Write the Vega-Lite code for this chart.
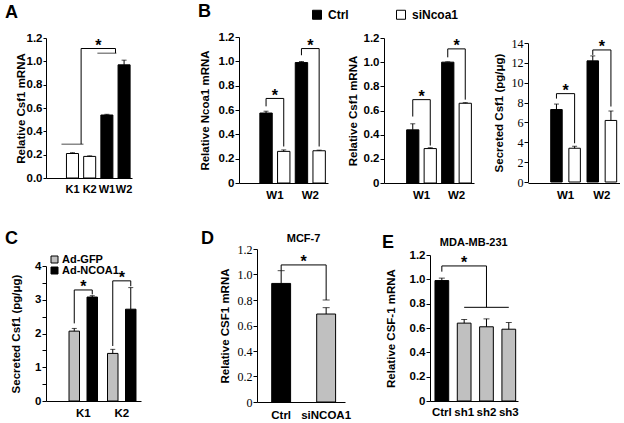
{
  "$schema": "https://vega.github.io/schema/vega-lite/v6.json",
  "background": "white",
  "padding": {"left": 5, "top": 2, "right": 0, "bottom": 0},
  "columns": 4,
  "spacing": {"row": 66, "column": 0},
  "bounds": "flush",
  "align": {"row": "each", "column": "each"},
  "resolve": {"scale": {"fill": "independent", "x": "independent", "y": "independent", "xOffset": "independent"}},
  "datasets": {
    "a_bars": [
      {"cell": "K1", "line": "K", "value": 0.21, "hi": 0.217},
      {"cell": "K2", "line": "K", "value": 0.185, "hi": 0.19},
      {"cell": "W1", "line": "W", "value": 0.54, "hi": 0.546},
      {"cell": "W2", "line": "W", "value": 0.97, "hi": 1.01}
    ],
    "a_path": [
      {"cell": "K1", "y": 0.29, "o": 1},
      {"cell": "K1", "y": 1.11, "o": 2},
      {"cell": "W1", "y": 1.11, "o": 3},
      {"cell": "W1", "y": 1.07, "o": 4}
    ],
    "a_low": [{"cell": "K1", "y": 0.29}],
    "a_high": [{"cell": "W1", "y": 1.07}],
    "a_star": [{"cell": "K2", "y": 1.09}],
    "b1_bars": [
      {"group": "W1", "series": "Ctrl", "value": 0.575, "hi": 0.59},
      {"group": "W1", "series": "siNcoa1", "value": 0.26, "hi": 0.272},
      {"group": "W2", "series": "Ctrl", "value": 0.99, "hi": 0.998},
      {"group": "W2", "series": "siNcoa1", "value": 0.265, "hi": 0.27}
    ],
    "b1_path": [
      {"group": "W1", "series": "Ctrl", "y": 0.63, "id": "W1", "o": 1},
      {"group": "W1", "series": "Ctrl", "y": 0.695, "id": "W1", "o": 2},
      {"group": "W1", "series": "siNcoa1", "y": 0.695, "id": "W1", "o": 3},
      {"group": "W1", "series": "siNcoa1", "y": 0.3, "id": "W1", "o": 4},
      {"group": "W2", "series": "Ctrl", "y": 1.05, "id": "W2", "o": 1},
      {"group": "W2", "series": "Ctrl", "y": 1.105, "id": "W2", "o": 2},
      {"group": "W2", "series": "siNcoa1", "y": 1.105, "id": "W2", "o": 3},
      {"group": "W2", "series": "siNcoa1", "y": 0.3, "id": "W2", "o": 4}
    ],
    "b1_star": [{"group": "W1", "y": 0.675}, {"group": "W2", "y": 1.085}],
    "b2_bars": [
      {"group": "W1", "series": "Ctrl", "value": 0.44, "hi": 0.49},
      {"group": "W1", "series": "siNcoa1", "value": 0.285, "hi": 0.292},
      {"group": "W2", "series": "Ctrl", "value": 1.0, "hi": 1.003},
      {"group": "W2", "series": "siNcoa1", "value": 0.66, "hi": 0.665}
    ],
    "b2_path": [
      {"group": "W1", "series": "Ctrl", "y": 0.55, "id": "W1", "o": 1},
      {"group": "W1", "series": "Ctrl", "y": 0.69, "id": "W1", "o": 2},
      {"group": "W1", "series": "siNcoa1", "y": 0.69, "id": "W1", "o": 3},
      {"group": "W1", "series": "siNcoa1", "y": 0.31, "id": "W1", "o": 4},
      {"group": "W2", "series": "Ctrl", "y": 1.04, "id": "W2", "o": 1},
      {"group": "W2", "series": "Ctrl", "y": 1.11, "id": "W2", "o": 2},
      {"group": "W2", "series": "siNcoa1", "y": 1.11, "id": "W2", "o": 3},
      {"group": "W2", "series": "siNcoa1", "y": 0.69, "id": "W2", "o": 4}
    ],
    "b2_star": [{"group": "W1", "y": 0.67}, {"group": "W2", "y": 1.09}],
    "b3_bars": [
      {"group": "W1", "series": "Ctrl", "value": 7.3, "hi": 7.85},
      {"group": "W1", "series": "siNcoa1", "value": 3.4, "hi": 3.6},
      {"group": "W2", "series": "Ctrl", "value": 12.2, "hi": 12.7},
      {"group": "W2", "series": "siNcoa1", "value": 6.2, "hi": 7.15}
    ],
    "b3_path": [
      {"group": "W1", "series": "Ctrl", "y": 8.4, "id": "W1", "o": 1},
      {"group": "W1", "series": "Ctrl", "y": 8.9, "id": "W1", "o": 2},
      {"group": "W1", "series": "siNcoa1", "y": 8.9, "id": "W1", "o": 3},
      {"group": "W1", "series": "siNcoa1", "y": 3.9, "id": "W1", "o": 4},
      {"group": "W2", "series": "Ctrl", "y": 12.8, "id": "W2", "o": 1},
      {"group": "W2", "series": "Ctrl", "y": 13.3, "id": "W2", "o": 2},
      {"group": "W2", "series": "siNcoa1", "y": 13.3, "id": "W2", "o": 3},
      {"group": "W2", "series": "siNcoa1", "y": 7.6, "id": "W2", "o": 4}
    ],
    "b3_star": [{"group": "W1", "y": 8.65}, {"group": "W2", "y": 13.05}],
    "c_bars": [
      {"group": "K1", "series": "Ad-GFP", "value": 2.07, "hi": 2.15},
      {"group": "K1", "series": "Ad-NCOA1", "value": 3.08, "hi": 3.12},
      {"group": "K2", "series": "Ad-GFP", "value": 1.41, "hi": 1.53},
      {"group": "K2", "series": "Ad-NCOA1", "value": 2.72, "hi": 3.36}
    ],
    "c_path": [
      {"group": "K1", "series": "Ad-GFP", "y": 2.3, "id": "K1", "o": 1},
      {"group": "K1", "series": "Ad-GFP", "y": 3.29, "id": "K1", "o": 2},
      {"group": "K1", "series": "Ad-NCOA1", "y": 3.29, "id": "K1", "o": 3},
      {"group": "K1", "series": "Ad-NCOA1", "y": 3.16, "id": "K1", "o": 4},
      {"group": "K2", "series": "Ad-GFP", "y": 1.63, "id": "K2", "o": 1},
      {"group": "K2", "series": "Ad-GFP", "y": 3.56, "id": "K2", "o": 2},
      {"group": "K2", "series": "Ad-NCOA1", "y": 3.56, "id": "K2", "o": 3},
      {"group": "K2", "series": "Ad-NCOA1", "y": 3.4, "id": "K2", "o": 4}
    ],
    "c_star": [{"group": "K1", "y": 3.22}, {"group": "K2", "y": 3.49}],
    "d_bars": [
      {"cond": "Ctrl", "value": 0.93, "hi": 1.03},
      {"cond": "siNCOA1", "value": 0.69, "hi": 0.74}
    ],
    "d_path": [
      {"cond": "Ctrl", "y": 1.03, "o": 1},
      {"cond": "Ctrl", "y": 1.075, "o": 2},
      {"cond": "siNCOA1", "y": 1.075, "o": 3},
      {"cond": "siNCOA1", "y": 0.8, "o": 4}
    ],
    "d_cap": [{"cond": "siNCOA1", "y": 0.8}],
    "d_star": [{"cond": "Ctrl", "y": 1.055}],
    "d_head": [{"cond": "Ctrl", "y": 1.255, "label": "MCF-7"}],
    "e_bars": [
      {"cell": "Ctrl", "value": 0.99, "hi": 1.01},
      {"cell": "sh1", "value": 0.64, "hi": 0.67},
      {"cell": "sh2", "value": 0.61, "hi": 0.675},
      {"cell": "sh3", "value": 0.59, "hi": 0.645}
    ],
    "e_path": [
      {"cell": "Ctrl", "y": 1.063, "id": "a", "o": 1},
      {"cell": "Ctrl", "y": 1.11, "id": "a", "o": 2},
      {"cell": "sh2", "y": 1.11, "id": "a", "o": 3},
      {"cell": "sh2", "y": 0.77, "id": "a", "o": 4},
      {"cell": "sh1", "y": 0.77, "id": "b", "o": 1},
      {"cell": "sh3", "y": 0.77, "id": "b", "o": 2}
    ],
    "e_star": [{"cell": "sh1", "y": 1.09}],
    "e_head": [{"cell": "sh1", "y": 1.275, "label": "MDA-MB-231"}]
  },
  "concat": [
    {
      "width": 193, "height": 141,
      "title": {"text": "A", "dx": -41, "offset": 10.5},
      "layer": [
        {"data": {"name": "a_bars"}, "mark": {"type": "bar", "stroke": "black", "strokeWidth": 1},
         "encoding": {
           "x": {"field": "cell", "type": "nominal", "scale": {"domain": ["K1", "K2", "W1", "W2"], "range": [0, 86], "paddingInner": 0.3, "paddingOuter": 0.65, "align": 0.915}, "axis": {"title": null, "labelFontSize": 11, "labelPadding": 5, "labelOverlap": false}},
           "y": {"field": "value", "type": "quantitative", "scale": {"domain": [0, 1.2], "range": [141, 1], "nice": false}, "axis": {"title": "Relative Csf1 mRNA", "values": [0, 0.2, 0.4, 0.6, 0.8, 1, 1.2], "tickCount": 50, "format": ".1f", "labelOverlap": false, "titlePadding": 0, "tickSize": 3}},
           "fill": {"field": "line", "type": "nominal", "scale": {"domain": ["K", "W"], "range": ["white", "black"]}, "legend": null}
         }},
        {"data": {"name": "a_bars"}, "mark": {"type": "rule", "color": "black", "strokeWidth": 1},
         "encoding": {"x": {"field": "cell", "type": "nominal"}, "y": {"field": "value", "type": "quantitative"}, "y2": {"field": "hi"}}},
        {"data": {"name": "a_bars"}, "mark": {"type": "tick", "orient": "horizontal", "color": "black", "thickness": 1, "size": 5},
         "encoding": {"x": {"field": "cell", "type": "nominal"}, "y": {"field": "hi", "type": "quantitative"}}},
        {"data": {"name": "a_path"}, "mark": {"type": "line", "color": "black", "strokeWidth": 1},
         "encoding": {"x": {"field": "cell", "type": "nominal", "bandPosition": 1.217}, "y": {"field": "y", "type": "quantitative"}, "order": {"field": "o"}}},
        {"data": {"name": "a_low"}, "mark": {"type": "tick", "orient": "horizontal", "color": "black", "thickness": 1, "size": 22},
         "encoding": {"x": {"field": "cell", "type": "nominal", "bandPosition": 1.217}, "y": {"field": "y", "type": "quantitative"}}},
        {"data": {"name": "a_high"}, "mark": {"type": "tick", "orient": "horizontal", "color": "black", "thickness": 1, "size": 19},
         "encoding": {"x": {"field": "cell", "type": "nominal", "bandPosition": 1.217}, "y": {"field": "y", "type": "quantitative"}}},
        {"data": {"name": "a_star"}, "mark": {"type": "text", "text": "*", "fontSize": 16, "fontWeight": "bold", "baseline": "alphabetic", "color": "black"},
         "encoding": {"x": {"field": "cell", "type": "nominal", "bandPosition": 1.217}, "y": {"field": "y", "type": "quantitative"}}}
      ]
    },
    {
      "width": 145, "height": 146,
      "title": {"text": "B", "dx": -41, "offset": 10.5},
      "layer": [
        {"data": {"name": "b1_bars"}, "mark": {"type": "bar", "stroke": "black", "strokeWidth": 1},
         "encoding": {
           "x": {"field": "group", "type": "nominal", "scale": {"domain": ["W1", "W2"], "range": [0, 89], "paddingInner": 0, "paddingOuter": 0.257, "align": 1}, "axis": {"title": null, "labelPadding": 6}},
           "xOffset": {"field": "series", "type": "nominal", "scale": {"domain": ["Ctrl", "siNcoa1"], "paddingInner": 0.3, "paddingOuter": 0.15}},
           "y": {"field": "value", "type": "quantitative", "scale": {"domain": [0, 1.2], "nice": false}, "axis": {"title": "Relative Ncoa1 mRNA", "values": [0, 0.2, 0.4, 0.6, 0.8, 1, 1.2], "tickCount": 50, "labelExpr": "datum.value === 0 ? '0' : format(datum.value, '.1f')", "labelOverlap": false, "titlePadding": 8}},
           "fill": {"field": "series", "type": "nominal", "scale": {"domain": ["Ctrl", "siNcoa1"], "range": ["black", "white"]}, "legend": null}
         }},
        {"data": {"name": "b1_bars"}, "mark": {"type": "rule", "color": "black", "strokeWidth": 1},
         "encoding": {"x": {"field": "group", "type": "nominal"}, "xOffset": {"field": "series", "type": "nominal"}, "y": {"field": "value", "type": "quantitative"}, "y2": {"field": "hi"}}},
        {"data": {"name": "b1_bars"}, "mark": {"type": "tick", "orient": "horizontal", "color": "black", "thickness": 1, "size": 5},
         "encoding": {"x": {"field": "group", "type": "nominal"}, "xOffset": {"field": "series", "type": "nominal"}, "y": {"field": "hi", "type": "quantitative"}}},
        {"data": {"name": "b1_path"}, "mark": {"type": "line", "color": "black", "strokeWidth": 1},
         "encoding": {"x": {"field": "group", "type": "nominal"}, "xOffset": {"field": "series", "type": "nominal"}, "y": {"field": "y", "type": "quantitative"}, "detail": {"field": "id"}, "order": {"field": "o"}}},
        {"data": {"name": "b1_star"}, "mark": {"type": "text", "text": "*", "fontSize": 16, "fontWeight": "bold", "baseline": "alphabetic", "color": "black"},
         "encoding": {"x": {"field": "group", "type": "nominal"}, "y": {"field": "y", "type": "quantitative"}}}
      ]
    },
    {
      "width": 144, "height": 146,
      "layer": [
        {"data": {"name": "b2_bars"}, "mark": {"type": "bar", "stroke": "black", "strokeWidth": 1},
         "encoding": {
           "x": {"field": "group", "type": "nominal", "scale": {"domain": ["W1", "W2"], "range": [0, 90], "paddingInner": 0, "paddingOuter": 0.286, "align": 1}, "axis": {"title": null, "labelPadding": 6}},
           "xOffset": {"field": "series", "type": "nominal", "scale": {"domain": ["Ctrl", "siNcoa1"], "paddingInner": 0.3, "paddingOuter": 0.15}},
           "y": {"field": "value", "type": "quantitative", "scale": {"domain": [0, 1.2], "range": [146, 1], "nice": false}, "axis": {"title": "Relative Csf1 mRNA", "values": [0, 0.2, 0.4, 0.6, 0.8, 1, 1.2], "tickCount": 50, "labelExpr": "datum.value === 0 ? '0' : format(datum.value, '.1f')", "labelOverlap": false, "titlePadding": 5}},
           "fill": {"field": "series", "type": "nominal", "scale": {"domain": ["Ctrl", "siNcoa1"], "range": ["black", "white"]},
                    "legend": {"orient": "none", "legendX": -73, "legendY": -28.5, "title": null, "direction": "horizontal", "symbolType": "square", "symbolSize": 81, "symbolStrokeColor": "black", "symbolStrokeWidth": 1, "labelFontSize": 12, "labelFontWeight": "bold", "labelFont": "Liberation Sans", "labelColor": "black", "labelOffset": 5, "columnPadding": 45, "padding": 0}}
         }},
        {"data": {"name": "b2_bars"}, "mark": {"type": "rule", "color": "black", "strokeWidth": 1},
         "encoding": {"x": {"field": "group", "type": "nominal"}, "xOffset": {"field": "series", "type": "nominal"}, "y": {"field": "value", "type": "quantitative"}, "y2": {"field": "hi"}}},
        {"data": {"name": "b2_bars"}, "mark": {"type": "tick", "orient": "horizontal", "color": "black", "thickness": 1, "size": 5},
         "encoding": {"x": {"field": "group", "type": "nominal"}, "xOffset": {"field": "series", "type": "nominal"}, "y": {"field": "hi", "type": "quantitative"}}},
        {"data": {"name": "b2_path"}, "mark": {"type": "line", "color": "black", "strokeWidth": 1},
         "encoding": {"x": {"field": "group", "type": "nominal"}, "xOffset": {"field": "series", "type": "nominal"}, "y": {"field": "y", "type": "quantitative"}, "detail": {"field": "id"}, "order": {"field": "o"}}},
        {"data": {"name": "b2_star"}, "mark": {"type": "text", "text": "*", "fontSize": 16, "fontWeight": "bold", "baseline": "alphabetic", "color": "black"},
         "encoding": {"x": {"field": "group", "type": "nominal"}, "y": {"field": "y", "type": "quantitative"}}}
      ]
    },
    {
      "width": 92, "height": 146,
      "layer": [
        {"data": {"name": "b3_bars"}, "mark": {"type": "bar", "stroke": "black", "strokeWidth": 1},
         "encoding": {
           "x": {"field": "group", "type": "nominal", "scale": {"domain": ["W1", "W2"], "range": [0, 92], "paddingInner": 0, "paddingOuter": 0.267, "align": 1}, "axis": {"title": null, "labelPadding": 6}},
           "xOffset": {"field": "series", "type": "nominal", "scale": {"domain": ["Ctrl", "siNcoa1"], "paddingInner": 0.366, "paddingOuter": 0.183}},
           "y": {"field": "value", "type": "quantitative", "scale": {"domain": [0, 14], "range": [145, 6], "nice": false}, "axis": {"title": "Secreted Csf1 (pg/μg)", "values": [0, 2, 4, 6, 8, 10, 12, 14], "tickCount": 50, "format": "d", "labelOverlap": false, "labelFont": "Liberation Serif", "labelFontWeight": "normal", "labelFontSize": 12, "titlePadding": 7}},
           "fill": {"field": "series", "type": "nominal", "scale": {"domain": ["Ctrl", "siNcoa1"], "range": ["black", "white"]}, "legend": null}
         }},
        {"data": {"name": "b3_bars"}, "mark": {"type": "rule", "color": "black", "strokeWidth": 1},
         "encoding": {"x": {"field": "group", "type": "nominal"}, "xOffset": {"field": "series", "type": "nominal"}, "y": {"field": "value", "type": "quantitative"}, "y2": {"field": "hi"}}},
        {"data": {"name": "b3_bars"}, "mark": {"type": "tick", "orient": "horizontal", "color": "black", "thickness": 1, "size": 5},
         "encoding": {"x": {"field": "group", "type": "nominal"}, "xOffset": {"field": "series", "type": "nominal"}, "y": {"field": "hi", "type": "quantitative"}}},
        {"data": {"name": "b3_path"}, "mark": {"type": "line", "color": "black", "strokeWidth": 1},
         "encoding": {"x": {"field": "group", "type": "nominal"}, "xOffset": {"field": "series", "type": "nominal"}, "y": {"field": "y", "type": "quantitative"}, "detail": {"field": "id"}, "order": {"field": "o"}}},
        {"data": {"name": "b3_star"}, "mark": {"type": "text", "text": "*", "fontSize": 16, "fontWeight": "bold", "baseline": "alphabetic", "color": "black"},
         "encoding": {"x": {"field": "group", "type": "nominal"}, "y": {"field": "y", "type": "quantitative"}}}
      ]
    },
    {
      "width": 193, "height": 152,
      "title": {"text": "C", "dx": -41, "offset": 0, "dy": -1.5},
      "layer": [
        {"data": {"name": "c_bars"}, "mark": {"type": "bar", "stroke": "black", "strokeWidth": 1},
         "encoding": {
           "x": {"field": "group", "type": "nominal", "scale": {"domain": ["K1", "K2"], "range": [0, 95], "paddingInner": 0, "paddingOuter": 0.234, "align": 1}, "axis": {"title": null, "labelPadding": 6}},
           "xOffset": {"field": "series", "type": "nominal", "scale": {"domain": ["Ad-GFP", "Ad-NCOA1"], "paddingInner": 0.417, "paddingOuter": 0.278}},
           "y": {"field": "value", "type": "quantitative", "scale": {"domain": [0, 4], "range": [152, 17], "nice": false}, "axis": {"title": "Secreted Csf1 (pg/μg)", "values": [0, 0.5, 1, 1.5, 2, 2.5, 3, 3.5, 4], "tickCount": 50, "labelExpr": "datum.value % 1 === 0 ? format(datum.value, 'd') : ''", "labelOverlap": false, "titlePadding": 13}},
           "fill": {"field": "series", "type": "nominal", "scale": {"domain": ["Ad-GFP", "Ad-NCOA1"], "range": ["#c0c0c0", "black"]},
                    "legend": {"orient": "none", "legendX": 3, "legendY": 5, "title": null, "direction": "vertical", "symbolType": "square", "symbolSize": 49, "symbolStrokeColor": "black", "symbolStrokeWidth": 1, "labelFontSize": 11, "labelFontWeight": "bold", "labelFont": "Liberation Sans", "labelColor": "black", "labelOffset": 2, "rowPadding": -2, "padding": 0}}
         }},
        {"data": {"name": "c_bars"}, "mark": {"type": "rule", "color": "black", "strokeWidth": 1},
         "encoding": {"x": {"field": "group", "type": "nominal"}, "xOffset": {"field": "series", "type": "nominal"}, "y": {"field": "value", "type": "quantitative"}, "y2": {"field": "hi"}}},
        {"data": {"name": "c_bars"}, "mark": {"type": "tick", "orient": "horizontal", "color": "black", "thickness": 1, "size": 5},
         "encoding": {"x": {"field": "group", "type": "nominal"}, "xOffset": {"field": "series", "type": "nominal"}, "y": {"field": "hi", "type": "quantitative"}}},
        {"data": {"name": "c_path"}, "mark": {"type": "line", "color": "black", "strokeWidth": 1},
         "encoding": {"x": {"field": "group", "type": "nominal"}, "xOffset": {"field": "series", "type": "nominal"}, "y": {"field": "y", "type": "quantitative"}, "detail": {"field": "id"}, "order": {"field": "o"}}},
        {"data": {"name": "c_star"}, "mark": {"type": "text", "text": "*", "fontSize": 16, "fontWeight": "bold", "baseline": "alphabetic", "color": "black"},
         "encoding": {"x": {"field": "group", "type": "nominal"}, "y": {"field": "y", "type": "quantitative"}}}
      ]
    },
    {
      "width": 145, "height": 153,
      "title": {"text": "D", "dx": -38, "offset": 0, "dy": 15},
      "layer": [
        {"data": {"name": "d_bars"}, "mark": {"type": "bar", "stroke": "black", "strokeWidth": 1},
         "encoding": {
           "x": {"field": "cond", "type": "nominal", "scale": {"domain": ["Ctrl", "siNCOA1"], "range": [18, 106], "paddingInner": 0.58, "paddingOuter": 0.268, "align": 0.61}, "axis": {"title": null, "labelPadding": 7}},
           "y": {"field": "value", "type": "quantitative", "scale": {"domain": [0, 1.2], "nice": false}, "axis": {"title": "Relative CSF1 mRNA", "offset": -18, "values": [0, 0.2, 0.4, 0.6, 0.8, 1, 1.2], "tickCount": 50, "labelExpr": "datum.value === 0 ? '0' : format(datum.value, '.1f')", "labelOverlap": false, "labelFont": "Liberation Serif", "labelFontWeight": "normal", "labelFontSize": 12, "titlePadding": 7}},
           "fill": {"field": "cond", "type": "nominal", "scale": {"domain": ["Ctrl", "siNCOA1"], "range": ["black", "#c0c0c0"]}, "legend": null}
         }},
        {"data": {"name": "d_bars"}, "mark": {"type": "rule", "color": "black", "strokeWidth": 1},
         "encoding": {"x": {"field": "cond", "type": "nominal"}, "y": {"field": "value", "type": "quantitative"}, "y2": {"field": "hi"}}},
        {"data": {"name": "d_bars"}, "mark": {"type": "tick", "orient": "horizontal", "color": "black", "thickness": 1, "size": 7},
         "encoding": {"x": {"field": "cond", "type": "nominal"}, "y": {"field": "hi", "type": "quantitative"}}},
        {"data": {"name": "d_path"}, "mark": {"type": "line", "color": "black", "strokeWidth": 1},
         "encoding": {"x": {"field": "cond", "type": "nominal"}, "y": {"field": "y", "type": "quantitative"}, "order": {"field": "o"}}},
        {"data": {"name": "d_cap"}, "mark": {"type": "tick", "orient": "horizontal", "color": "black", "thickness": 1, "size": 7},
         "encoding": {"x": {"field": "cond", "type": "nominal"}, "y": {"field": "y", "type": "quantitative"}}},
        {"data": {"name": "d_star"}, "mark": {"type": "text", "text": "*", "fontSize": 16, "fontWeight": "bold", "baseline": "alphabetic", "color": "black"},
         "encoding": {"x": {"field": "cond", "type": "nominal", "bandPosition": 1.684}, "y": {"field": "y", "type": "quantitative"}}},
        {"data": {"name": "d_head"}, "mark": {"type": "text", "fontSize": 11, "fontWeight": "bold", "baseline": "alphabetic", "color": "black", "font": "Liberation Sans"},
         "encoding": {"x": {"field": "cond", "type": "nominal", "bandPosition": 1.684}, "y": {"field": "y", "type": "quantitative"}, "text": {"field": "label"}}}
      ]
    },
    {
      "width": 134, "height": 152,
      "title": {"text": "E", "dx": -2, "offset": 0, "dy": 15},
      "layer": [
        {"data": {"name": "e_bars"}, "mark": {"type": "bar", "stroke": "black", "strokeWidth": 1},
         "encoding": {
           "x": {"field": "cell", "type": "nominal", "scale": {"domain": ["Ctrl", "sh1", "sh2", "sh3"], "range": [46, 134], "paddingInner": 0.385, "paddingOuter": 0.164, "align": 0.68}, "axis": {"title": null, "labelPadding": 5}},
           "y": {"field": "value", "type": "quantitative", "scale": {"domain": [0, 1.2], "range": [152, 6], "nice": false}, "axis": {"title": "Relative CSF-1 mRNA", "offset": -46, "values": [0, 0.2, 0.4, 0.6, 0.8, 1, 1.2], "tickCount": 50, "labelExpr": "datum.value === 0 ? '0' : format(datum.value, '.1f')", "labelOverlap": false, "titlePadding": 13}},
           "fill": {"field": "cell", "type": "nominal", "scale": {"domain": ["Ctrl", "sh1", "sh2", "sh3"], "range": ["black", "#c0c0c0", "#c0c0c0", "#c0c0c0"]}, "legend": null}
         }},
        {"data": {"name": "e_bars"}, "mark": {"type": "rule", "color": "black", "strokeWidth": 1},
         "encoding": {"x": {"field": "cell", "type": "nominal"}, "y": {"field": "value", "type": "quantitative"}, "y2": {"field": "hi"}}},
        {"data": {"name": "e_bars"}, "mark": {"type": "tick", "orient": "horizontal", "color": "black", "thickness": 1, "size": 6},
         "encoding": {"x": {"field": "cell", "type": "nominal"}, "y": {"field": "hi", "type": "quantitative"}}},
        {"data": {"name": "e_path"}, "mark": {"type": "line", "color": "black", "strokeWidth": 1},
         "encoding": {"x": {"field": "cell", "type": "nominal"}, "y": {"field": "y", "type": "quantitative"}, "detail": {"field": "id"}, "order": {"field": "o"}}},
        {"data": {"name": "e_star"}, "mark": {"type": "text", "text": "*", "fontSize": 16, "fontWeight": "bold", "baseline": "alphabetic", "color": "black"},
         "encoding": {"x": {"field": "cell", "type": "nominal"}, "y": {"field": "y", "type": "quantitative"}}},
        {"data": {"name": "e_head"}, "mark": {"type": "text", "fontSize": 11, "fontWeight": "bold", "baseline": "alphabetic", "color": "black", "font": "Liberation Sans"},
         "encoding": {"x": {"field": "cell", "type": "nominal", "bandPosition": 1.2}, "y": {"field": "y", "type": "quantitative"}, "text": {"field": "label"}}}
      ]
    }
  ],
  "config": {
    "view": {"stroke": null},
    "font": "Liberation Sans",
    "axis": {"grid": false, "domainColor": "black", "tickColor": "black", "labelColor": "black", "titleColor": "black", "labelFont": "Liberation Sans", "labelFontWeight": "bold", "labelFontSize": 11.5, "titleFont": "Liberation Sans", "titleFontWeight": "bold", "titleFontSize": 11.5, "tickSize": 4, "labelPadding": 1, "domainWidth": 1, "tickWidth": 1},
    "axisX": {"ticks": false, "labelAngle": 0, "labelOverlap": false},
    "axisY": {"labelOverlap": false},
    "title": {"font": "Liberation Sans", "fontSize": 18, "fontWeight": "bold", "color": "black", "anchor": "start", "frame": "group"}
  }
}
